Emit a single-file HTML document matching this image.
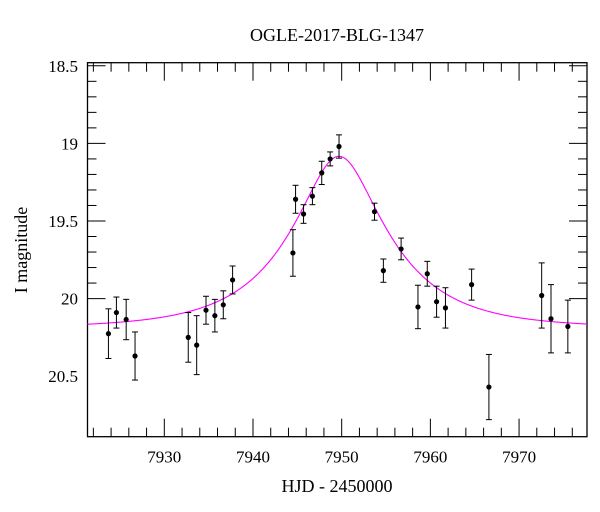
<!DOCTYPE html>
<html><head><meta charset="utf-8"><style>
html,body{margin:0;padding:0;background:#fff;}
svg{display:block;font-family:"Liberation Serif",serif;}
</style></head><body>
<svg id="chart" width="600" height="512">
<text x="337" y="41" text-anchor="middle" font-size="18">OGLE-2017-BLG-1347</text>
<text x="337" y="492" text-anchor="middle" font-size="18">HJD - 2450000</text>
<text transform="translate(27,250) rotate(-90)" text-anchor="middle" font-size="18">I magnitude</text>
<g id="axes"></g>
<g id="curve"></g>
<g id="points"></g>
</svg>
<script>
const times=[7923.7,7924.6,7925.7,7926.7,7932.7,7933.65,7934.7,7935.7,7936.65,7937.7,7944.5,7944.8,7945.7,7946.7,7947.75,7948.7,7949.7,7953.7,7954.7,7956.7,7958.6,7959.65,7960.7,7961.7,7964.65,7966.6,7972.55,7973.6,7975.5];
const mags=[20.226,20.09,20.135,20.37,20.25,20.30,20.075,20.11,20.04,19.88,19.706,19.36,19.455,19.34,19.19,19.10,19.02,19.44,19.82,19.68,20.054,19.84,20.02,20.06,19.91,20.57,19.98,20.13,20.18];
const errs=[0.16,0.10,0.13,0.155,0.16,0.19,0.09,0.105,0.09,0.09,0.15,0.09,0.06,0.055,0.075,0.045,0.075,0.055,0.075,0.07,0.14,0.08,0.10,0.13,0.10,0.21,0.21,0.22,0.17];
const xTicks=[7930,7940,7950,7960,7970];
const yTicks=[18.5,19,19.5,20,20.5];
const yTickLabels=["18.5","19","19.5","20","20.5"];
const modelBaseline=20.19, modelT0=7949.7, modelU0=0.38, modelTE=10.5;

const L=87.5,R=587,T=62.7,B=436.7;
const X0=7921.34,X1=7977.66,Y0=18.48,Y1=20.89;
const sx=v=>L+(v-X0)/(X1-X0)*(R-L);
const sy=v=>T+(v-Y0)/(Y1-Y0)*(B-T);
const NS="http://www.w3.org/2000/svg";
function mk(tag,attrs,parent){const e=document.createElementNS(NS,tag);for(const k in attrs)e.setAttribute(k,attrs[k]);parent.appendChild(e);return e;}
const axes=document.getElementById('axes');
const frame=mk('rect',{x:L,y:T,width:R-L,height:B-T,fill:'none',stroke:'#000','stroke-width':1.3},axes);


for(let v=7922;v<=7976;v+=2){
  const major=v%10===0;const len=major?18:9;const x=sx(v);
  const t1=mk('line',{x1:x,x2:x,y1:B,y2:B-len,stroke:'#000','stroke-width':1},axes);
  
  
  const t2=mk('line',{x1:x,x2:x,y1:T,y2:T+len,stroke:'#000','stroke-width':1},axes);
  
  
}
xTicks.forEach(v=>{
  const t=mk('text',{x:sx(v),y:B+26,'text-anchor':'middle','font-size':17},axes);
  t.textContent=v;
  
  
});
for(let i=5;i<=20;i++){
  const v=i/10+18;const major=i%5===0;const len=major?18:9;const y=sy(v);
  const t1=mk('line',{x1:L,x2:L+len,y1:y,y2:y,stroke:'#000','stroke-width':1},axes);
  
  
  const t2=mk('line',{x1:R,x2:R-len,y1:y,y2:y,stroke:'#000','stroke-width':1},axes);
  
  
}
yTicks.forEach((v,i)=>{
  const t=mk('text',{x:78,y:sy(v)+6,'text-anchor':'end','font-size':17},axes);
  t.textContent=yTickLabels[i];
  
  
});
function modelMag(t){const tau=(t-modelT0)/modelTE;const u=Math.sqrt(modelU0*modelU0+tau*tau);const A=(u*u+2)/(u*Math.sqrt(u*u+4));return modelBaseline-2.5*Math.log10(A);}
let d='';for(let t=X0;t<=X1;t+=0.1){d+=(d?'L':'M')+sx(t).toFixed(2)+','+sy(modelMag(t)).toFixed(2);}
const path=mk('path',{d:d,fill:'none',stroke:'#ff00ff','stroke-width':1.1},document.getElementById('curve'));


const pg=document.getElementById('points');
times.forEach((t,i)=>{
  const x=sx(t),y=sy(mags[i]),y1=sy(mags[i]-errs[i]),y2=sy(mags[i]+errs[i]);
  const g=mk('g',{},pg);
  
  
  mk('line',{x1:x,x2:x,y1:y1,y2:y2,stroke:'#000','stroke-width':1},g);
  mk('line',{x1:x-3,x2:x+3,y1:y1,y2:y1,stroke:'#000','stroke-width':1},g);
  mk('line',{x1:x-3,x2:x+3,y1:y2,y2:y2,stroke:'#000','stroke-width':1},g);
  mk('circle',{cx:x,cy:y,r:2.6,fill:'#000'},g);
});
</script>
</body></html>
